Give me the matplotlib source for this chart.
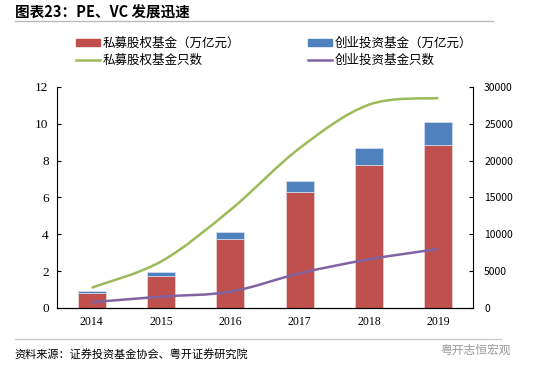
import matplotlib.pyplot as plt
import numpy as np
from matplotlib.path import Path
from matplotlib.patches import PathPatch, Patch
from matplotlib.lines import Line2D

plt.rcParams['font.family'] = ['Noto Sans CJK SC', 'DejaVu Sans']

# data
years = ['2014', '2015', '2016', '2017', '2018', '2019']
pe_size = [0.81, 1.75, 3.75, 6.28, 7.78, 8.87]      # 私募股权基金 (万亿元)
vc_size = [0.11, 0.19, 0.38, 0.62, 0.92, 1.21]      # 创业投资基金 (万亿元)
pe_count = [2750, 6300, 13300, 21700, 27600, 28500]  # 私募股权基金只数
vc_count = [770, 1530, 2200, 4700, 6600, 8000]       # 创业投资基金只数

red, blue, green, purple = '#C0504D', '#4F81BD', '#9BBB59', '#8064A2'


def smooth_path(xs, ys):
    # Catmull-Rom style bezier through the points (like Excel smoothed lines)
    xs, ys = np.asarray(xs, float), np.asarray(ys, float)
    verts = [(xs[0], ys[0])]
    codes = [Path.MOVETO]
    n = len(xs)
    for i in range(n - 1):
        p0 = np.array([xs[max(i - 1, 0)], ys[max(i - 1, 0)]])
        p1 = np.array([xs[i], ys[i]])
        p2 = np.array([xs[i + 1], ys[i + 1]])
        p3 = np.array([xs[min(i + 2, n - 1)], ys[min(i + 2, n - 1)]])
        c1 = p1 + (p2 - p0) / 6
        c2 = p2 - (p3 - p1) / 6
        verts += [tuple(c1), tuple(c2), tuple(p2)]
        codes += [Path.CURVE4] * 3
    return Path(verts, codes)


fig = plt.figure(figsize=(5.5, 3.71), dpi=100)
ax = fig.add_axes([0.1036, 0.17, 0.7564, 0.5955])
x = np.arange(len(years))

ax.bar(x, pe_size, width=0.4, color=red, edgecolor='#f0d8d8', linewidth=0.5, zorder=2)
ax.bar(x, vc_size, width=0.4, bottom=pe_size, color=blue, edgecolor='#d8e0f0', linewidth=0.5, zorder=2)
ax.set_xlim(-0.5, 5.5)
ax.set_ylim(0, 12)
ax.set_yticks(range(0, 13, 2))
ax.set_xticks(x)
ax.set_xticklabels(years)
ax.tick_params(axis='y', direction='in', length=3, labelsize=9.5, pad=6)
ax.tick_params(axis='x', length=0, labelsize=8.5, pad=6)
for lab in ax.get_xticklabels() + ax.get_yticklabels():
    lab.set_family('Liberation Serif')
ax.spines['top'].set_visible(False)
ax.spines['right'].set_visible(False)

ax2 = ax.twinx()
ax2.set_ylim(0, 30000)
ax2.set_yticks(range(0, 30001, 5000))
ax2.tick_params(axis='y', direction='in', length=3, labelsize=7.5, pad=8)
ax2.spines['top'].set_visible(False)
ax2.spines['left'].set_visible(False)
ax2.add_patch(PathPatch(smooth_path(x, pe_count), fill=False, edgecolor=green, lw=1.8, zorder=3))
ax2.add_patch(PathPatch(smooth_path(x, vc_count), fill=False, edgecolor=purple, lw=1.8, zorder=3))

# legend
handles = [Patch(color=red), Patch(color=blue),
           Line2D([], [], color=green, lw=1.8), Line2D([], [], color=purple, lw=1.8)]
labels = ['私募股权基金（万亿元）', '创业投资基金（万亿元）', '私募股权基金只数', '创业投资基金只数']
fig.legend([handles[0], handles[2], handles[1], handles[3]],
           [labels[0], labels[2], labels[1], labels[3]],
           ncol=2, loc='upper left', bbox_to_anchor=(0.118, 0.93), frameon=False,
           fontsize=9, columnspacing=5.4, handlelength=1.9, handleheight=0.5,
           handletextpad=0.25, labelspacing=0.3)

# title, rules and source
fig.text(0.027, 0.965, '图表23：PE、VC 发展迅速', fontsize=10.5, fontweight='bold', va='center')
fig.add_artist(Line2D([0.027, 0.897], [0.943, 0.943], color='#bbbbbb', lw=1))
fig.add_artist(Line2D([0.027, 0.91], [0.087, 0.087], color='#cccccc', lw=1))
fig.text(0.027, 0.045, '资料来源：证券投资基金协会、粤开证券研究院', fontsize=8, style='italic', va='center')
fig.text(0.8, 0.055, '粤开志恒宏观', fontsize=8.5, color='#999999', va='center')

fig.savefig('out.png', dpi=100)
